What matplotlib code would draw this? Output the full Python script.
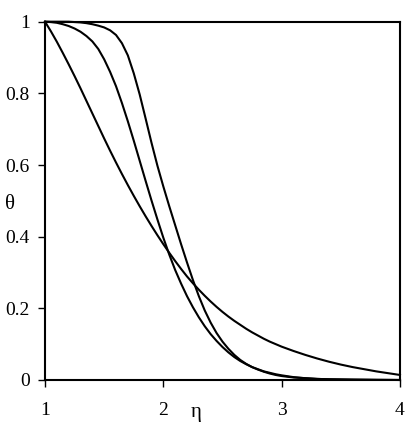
import matplotlib
matplotlib.use("Agg")
import matplotlib.pyplot as plt

plt.rcParams['font.family'] = ['Liberation Serif', 'DejaVu Serif']

# eta grid shared by the three profiles
eta = [1.00, 1.05, 1.10, 1.15, 1.20, 1.25, 1.30, 1.35, 1.40, 1.45,
       1.50, 1.55, 1.60, 1.65, 1.70, 1.75, 1.80, 1.85, 1.90, 1.95,
       2.00, 2.05, 2.10, 2.15, 2.20, 2.25, 2.30, 2.35, 2.40, 2.45,
       2.50, 2.55, 2.60, 2.65, 2.70, 2.75, 2.80, 2.85, 2.90, 2.95,
       3.00, 3.10, 3.20, 3.30, 3.40, 3.50, 3.60, 3.70, 3.80, 3.90, 4.00]

# widest profile (slowest decay)
theta_a = [1.000, 0.973, 0.944, 0.913, 0.881, 0.848, 0.814, 0.779, 0.744, 0.709,
           0.674, 0.640, 0.607, 0.575, 0.544, 0.514, 0.485, 0.457, 0.430, 0.404,
           0.379, 0.355, 0.332, 0.310, 0.289, 0.270, 0.252, 0.235, 0.219, 0.204,
           0.190, 0.177, 0.165, 0.154, 0.143, 0.133, 0.124, 0.115, 0.107, 0.100,
           0.093, 0.081, 0.070, 0.060, 0.051, 0.043, 0.036, 0.030, 0.024, 0.019, 0.014]

# middle profile
theta_b = [1.000, 0.999, 0.997, 0.993, 0.988, 0.981, 0.972, 0.960, 0.945, 0.924,
           0.895, 0.860, 0.820, 0.773, 0.722, 0.668, 0.612, 0.556, 0.501, 0.448,
           0.397, 0.350, 0.307, 0.269, 0.234, 0.203, 0.175, 0.150, 0.128, 0.109,
           0.092, 0.077, 0.064, 0.053, 0.044, 0.036, 0.030, 0.024, 0.020, 0.016,
           0.013, 0.008, 0.005, 0.003, 0.002, 0.0015, 0.001, 0.0007, 0.0004, 0.0002, 0.0]

# steepest profile
theta_c = [1.000, 1.000, 1.000, 1.000, 1.000, 0.999, 0.998, 0.996, 0.993, 0.989,
           0.984, 0.976, 0.963, 0.940, 0.906, 0.856, 0.797, 0.730, 0.662, 0.598,
           0.540, 0.485, 0.432, 0.379, 0.328, 0.279, 0.234, 0.194, 0.160, 0.131,
           0.107, 0.087, 0.070, 0.056, 0.045, 0.036, 0.029, 0.023, 0.018, 0.014,
           0.011, 0.007, 0.005, 0.003, 0.002, 0.0015, 0.001, 0.0007, 0.0004, 0.0002, 0.0]

x_ticks = [1, 2, 3, 4]
x_labels = ['1', '2', '3', '4']
y_ticks = [0, 0.2, 0.4, 0.6, 0.8, 1]
y_labels = ['0', '0.2', '0.4', '0.6', '0.8', '1']

fig = plt.figure(figsize=(4.10, 4.24), dpi=100)
ax = fig.add_axes([0.1098, 0.1038, 0.8658, 0.845])

for th in (theta_a, theta_b, theta_c):
    ax.plot(eta, th, color='black', lw=1.5, clip_on=False, zorder=3,
            solid_joinstyle='round')

ax.set_xlim(1, 4)
ax.set_ylim(0, 1)
ax.set_xticks(x_ticks)
ax.set_xticklabels(x_labels)
ax.set_yticks(y_ticks)
ax.set_yticklabels(y_labels)
ax.tick_params(axis='both', direction='out', length=5, width=1, labelsize=14,
               color='black')
ax.tick_params(axis='x', pad=11)
ax.tick_params(axis='y', pad=6)

for s in ax.spines.values():
    s.set_linewidth(1.5)
    s.set_color('black')

ax.text(2.28, -0.102, 'η', transform=ax.get_xaxis_transform(),
        ha='center', va='baseline', fontsize=15)
ax.text(-0.098, 0.49, 'θ', transform=ax.transAxes,
        ha='center', va='center', fontsize=15)

fig.savefig('out.png', dpi=100)
